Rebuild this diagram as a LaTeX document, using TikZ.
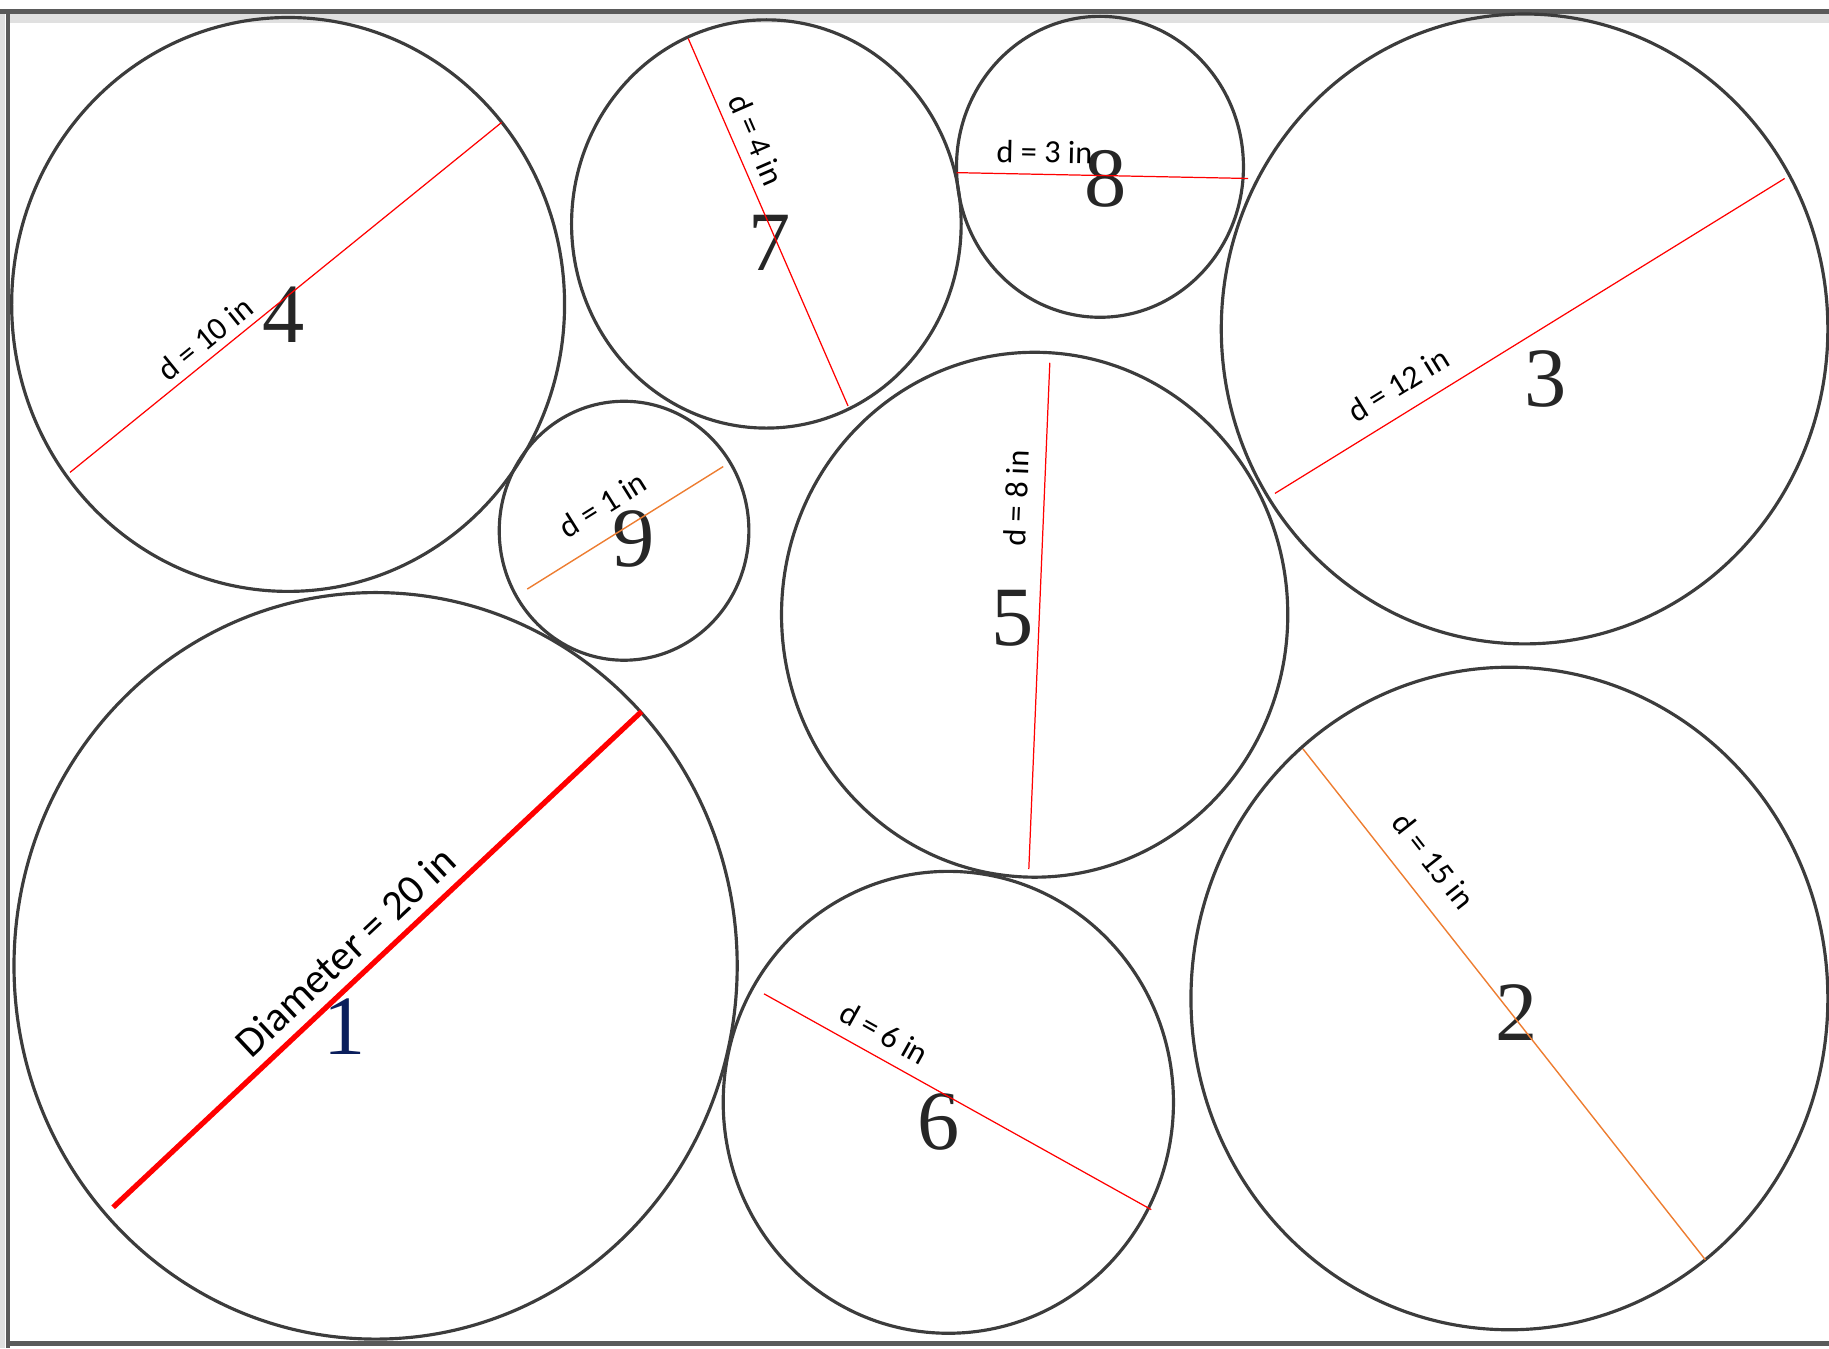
\documentclass[tikz,border=0pt]{standalone}
\usepackage{fontspec}
\setsansfont{Carlito}
\newfontfamily\digitfont{Liberation Serif}
\usetikzlibrary{positioning}
\definecolor{ringgray}{HTML}{3C3C3C}
\definecolor{framegray}{HTML}{5A5A5A}
\definecolor{bandgray}{HTML}{E0E0E0}
\definecolor{diamred}{HTML}{FF0000}
\definecolor{diamorange}{HTML}{ED7D31}
\definecolor{numnavy}{HTML}{0B1F5C}
\tikzset{
  ring/.style     ={draw=ringgray,line width=0.9pt},
  diamline/.style ={draw=diamred,line width=0.35pt},
  diamthick/.style={draw=diamred,line width=1.5pt},
  diamorng/.style ={draw=diamorange,line width=0.4pt},
  dlabel/.style   ={font=\sffamily\fontsize{9.2}{11}\selectfont,sloped,inner sep=0pt},
  biglabel/.style ={font=\sffamily\fontsize{12}{14}\selectfont,sloped,inner sep=0pt},
  numlabel/.style ={font=\digitfont\fontsize{24}{24}\selectfont,text=black!85,inner sep=0pt}
}
\begin{document}
\begin{tikzpicture}[x=0.011665cm,y=-0.011665cm]
  \useasboundingbox (0,0) rectangle (1568,1156);

  % frame
  \fill[bandgray] (9,12) rectangle (1568,20);
  \fill[bandgray] (0,10) rectangle (4,1156);
  \draw[framegray,line width=1.3pt] (0,10) -- (1568,10);
  \draw[framegray,line width=1.3pt] (7,10) -- (7,1156);
  \draw[framegray,line width=1.3pt] (7,1152) -- (1568,1152);

  % circle centres
  \coordinate (c1) at (322,828);
  \coordinate (c2) at (1294,856);
  \coordinate (c3) at (1307,282);
  \coordinate (c4) at (247,261);
  \coordinate (c5) at (887,527);
  \coordinate (c6) at (813,945);
  \coordinate (c7) at (657,192);
  \coordinate (c8) at (943,143);
  \coordinate (c9) at (535,455);

  \draw[ring] (c1) ellipse [x radius=310, y radius=320];
  \draw[ring] (c2) ellipse [x radius=273, y radius=284];
  \draw[ring] (c3) ellipse [x radius=260, y radius=270];
  \draw[ring] (c4) ellipse [x radius=237, y radius=246];
  \draw[ring] (c5) ellipse [x radius=217, y radius=225];
  \draw[ring] (c6) ellipse [x radius=193, y radius=198];
  \draw[ring] (c7) ellipse [x radius=167, y radius=175];
  \draw[ring] (c8) ellipse [x radius=123, y radius=129];
  \draw[ring] (c9) ellipse [x radius=107, y radius=111];

  % numbers
  \node[numlabel,text=numnavy] (n1) at (295,880) {1};
  \node[numlabel] (n2) at (1300,868) {2};
  \node[numlabel] (n3) at (1325,325) {3};
  \node[numlabel] (n4) at (243,270) {4};
  \node[numlabel] (n5) at (868,530) {5};
  \node[numlabel] (n6) at (805,962) {6};
  \node[numlabel] (n7) at (660,208) {7};
  \node[numlabel] (n8) at (948,153) {8};
  \node[numlabel] (n9) at (543,462) {9};

  % diameters
  \coordinate (d1a) at (97,1035);   \coordinate (d1b) at (550,610);
  \coordinate (d2a) at (1117,642);  \coordinate (d2b) at (1462,1080);
  \coordinate (d3a) at (1093,423);  \coordinate (d3b) at (1530,153);
  \coordinate (d4a) at (60,405);    \coordinate (d4b) at (430,105);
  \coordinate (d5a) at (882,745);   \coordinate (d5b) at (900,311);
  \coordinate (d6a) at (655,852);   \coordinate (d6b) at (987,1037);
  \coordinate (d7a) at (590,33);    \coordinate (d7b) at (727,348);
  \coordinate (d8a) at (820,148);   \coordinate (d8b) at (1070,153);
  \coordinate (d9a) at (452,505);   \coordinate (d9b) at (620,400);

  \draw[diamthick] (d1a) -- node[biglabel,pos=0.475,above=3pt] (t1) {Diameter = 20 in} (d1b);
  \draw[diamorng]  (d2a) -- node[dlabel,pos=0.26,above=6pt] (t2) {d = 15 in} (d2b);
  \draw[diamline]  (d3a) -- node[dlabel,pos=0.27,above=4.5pt] (t3) {d = 12 in} (d3b);
  \draw[diamline]  (d4a) -- node[dlabel,pos=0.34,above=2pt] (t4) {d = 10 in} (d4b);
  \draw[diamline]  (d5a) -- node[dlabel,pos=0.73,above=4.5pt] (t5) {d = 8 in} (d5b);
  \draw[diamline]  (d6a) -- node[dlabel,pos=0.28,above=3.5pt] (t6) {d = 6 in} (d6b);
  \draw[diamline]  (d7a) -- node[dlabel,pos=0.30,above=3pt] (t7) {d = 4 in} (d7b);
  \draw[diamline]  (d8a) -- node[dlabel,pos=0.30,above=3pt] (t8) {d = 3 in} (d8b);
  \draw[diamorng]  (d9a) -- node[dlabel,pos=0.47,above=5.5pt] (t9) {d = 1 in} (d9b);
\end{tikzpicture}
\end{document}
